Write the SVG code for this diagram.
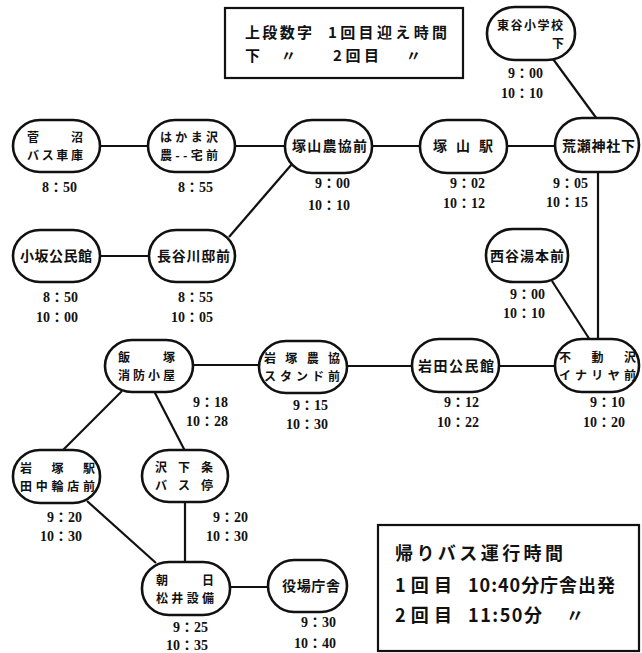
<svg xmlns="http://www.w3.org/2000/svg" width="642" height="653" viewBox="0 0 642 653">
<style>
.bg{fill:#fff}
.node rect{fill:#fff;stroke:#111;stroke-width:2.6}
.node text{font-family:"Noto Sans CJK JP","Noto Sans CJK SC",sans-serif;font-weight:bold;font-size:14px;fill:#111}
.node text.two{font-size:12px}
.node text.time{font-family:"Liberation Serif","Noto Sans CJK JP",serif;font-weight:bold;font-size:14px;fill:#111;text-anchor:end}
.edges line{stroke:#111;stroke-width:2.2}
.box{fill:none;stroke:#111;stroke-width:2.2}
.leg{font-family:"Noto Sans CJK JP","Noto Sans CJK SC",sans-serif;font-weight:bold;font-size:15px;fill:#111}
.leg2{font-family:"Noto Sans CJK JP","Noto Sans CJK SC",sans-serif;font-weight:bold;font-size:18px;fill:#111}
</style>
<rect class="bg" x="0" y="0" width="642" height="653"/>

<g id="connectors" class="edges">
<line x1="100" y1="146" x2="148" y2="146"/>
<line x1="235" y1="146" x2="285" y2="146"/>
<line x1="372" y1="146" x2="420" y2="146"/>
<line x1="507" y1="146" x2="555" y2="146"/>
<line x1="553" y1="59" x2="597" y2="119"/>
<line x1="100" y1="256" x2="149" y2="256"/>
<line x1="229" y1="237" x2="292" y2="164"/>
<line x1="598" y1="172" x2="598" y2="340"/>
<line x1="552" y1="281" x2="590" y2="340"/>
<line x1="499" y1="366" x2="555" y2="366"/>
<line x1="347" y1="366" x2="412" y2="366"/>
<line x1="193" y1="365" x2="259" y2="365"/>
<line x1="122" y1="391" x2="62" y2="451"/>
<line x1="154" y1="391" x2="185" y2="451"/>
<line x1="87" y1="501" x2="156" y2="563"/>
<line x1="185" y1="502" x2="185" y2="562"/>
<line x1="230" y1="587" x2="268" y2="587"/>
</g>

<g id="legend-top">
<rect class="box" x="225" y="8" width="238" height="70"/>
<text class="leg" x="245" y="38" textLength="67" lengthAdjust="spacing">上段数字</text>
<text class="leg" x="328" y="38" textLength="119" lengthAdjust="spacing">1回目迎え時間</text>
<text class="leg" x="245" y="61">下</text>
<text class="leg" x="281" y="61">〃</text>
<text class="leg" x="333" y="61" textLength="46" lengthAdjust="spacing">2回目</text>
<text class="leg" x="406" y="61">〃</text>
</g>

<g id="legend-bottom">
<rect class="box" x="378" y="525" width="261" height="126"/>
<text class="leg2" x="395" y="560" textLength="168" lengthAdjust="spacing">帰りバス運行時間</text>
<text class="leg2" x="395" y="592" textLength="57" lengthAdjust="spacing">1回目</text>
<text class="leg2" x="468" y="592" textLength="147" lengthAdjust="spacing">10:40分庁舎出発</text>
<text class="leg2" x="395" y="622" textLength="57" lengthAdjust="spacing">2回目</text>
<text class="leg2" x="468" y="622" textLength="74" lengthAdjust="spacing">11:50分</text>
<text class="leg2" x="566" y="622">〃</text>
</g>

<g id="n-higashiya" class="node">
<rect x="487" y="7" width="88" height="53" rx="28" ry="26"/>
<text class="two"><tspan x="497" y="30" textLength="66" lengthAdjust="spacing">東谷小学校</tspan><tspan x="552" y="48">下</tspan></text>
<text class="time" x="543" y="78">9：00</text>
<text class="time" x="543" y="98">10：10</text>
</g>

<g id="n-arase" class="node">
<rect x="555" y="118" width="84" height="54" rx="27" ry="27"/>
<text x="562" y="151" textLength="73" lengthAdjust="spacing">荒瀬神社下</text>
<text class="time" x="588" y="188">9：05</text>
<text class="time" x="588" y="207">10：15</text>
</g>

<g id="n-tsukayama-eki" class="node">
<rect x="420" y="120" width="87" height="53" rx="27" ry="26"/>
<text x="433" y="151" textLength="60" lengthAdjust="spacing">塚山駅</text>
<text class="time" x="485" y="188">9：02</text>
<text class="time" x="485" y="208">10：12</text>
</g>

<g id="n-tsukayama-nokyo" class="node">
<rect x="285" y="120" width="87" height="53" rx="27" ry="26"/>
<text x="292" y="151" textLength="75" lengthAdjust="spacing">塚山農協前</text>
<text class="time" x="350" y="188">9：00</text>
<text class="time" x="350" y="210">10：10</text>
</g>

<g id="n-hakamazawa" class="node">
<rect x="148" y="120" width="87" height="52" rx="27" ry="26"/>
<text class="two"><tspan x="160" y="142" textLength="58" lengthAdjust="spacing">はかま沢</tspan><tspan x="160" y="160" textLength="58" lengthAdjust="spacing">農--宅前</tspan></text>
<text class="time" x="213" y="192">8：55</text>
</g>

<g id="n-suganuma" class="node">
<rect x="13" y="120" width="87" height="52" rx="27" ry="26"/>
<text class="two"><tspan x="27" y="142" textLength="56" lengthAdjust="spacing">菅沼</tspan><tspan x="27" y="160" textLength="56" lengthAdjust="spacing">バス車庫</tspan></text>
<text class="time" x="77" y="192">8：50</text>
</g>

<g id="n-kosaka" class="node">
<rect x="13" y="230" width="87" height="52" rx="27" ry="26"/>
<text x="20" y="261" textLength="72" lengthAdjust="spacing">小坂公民館</text>
<text class="time" x="78" y="302">8：50</text>
<text class="time" x="78" y="322">10：00</text>
</g>

<g id="n-hasegawa" class="node">
<rect x="149" y="230" width="86" height="52" rx="27" ry="26"/>
<text x="157" y="261" textLength="73" lengthAdjust="spacing">長谷川邸前</text>
<text class="time" x="213" y="302">8：55</text>
<text class="time" x="213" y="322">10：05</text>
</g>

<g id="n-nishiya" class="node">
<rect x="486" y="229" width="82" height="53" rx="27" ry="26"/>
<text x="490" y="261" textLength="74" lengthAdjust="spacing">西谷湯本前</text>
<text class="time" x="545" y="299">9：00</text>
<text class="time" x="545" y="318">10：10</text>
</g>

<g id="n-fudosawa" class="node">
<rect x="555" y="339" width="84" height="53" rx="27" ry="26"/>
<text class="two"><tspan x="559" y="362" textLength="77" lengthAdjust="spacing">不動沢</tspan><tspan x="559" y="380" textLength="77" lengthAdjust="spacing">イナリヤ前</tspan></text>
<text class="time" x="625" y="407">9：10</text>
<text class="time" x="625" y="427">10：20</text>
</g>

<g id="n-iwata" class="node">
<rect x="412" y="339" width="87" height="53" rx="27" ry="26"/>
<text x="418" y="371" textLength="76" lengthAdjust="spacing">岩田公民館</text>
<text class="time" x="479" y="407">9：12</text>
<text class="time" x="479" y="427">10：22</text>
</g>

<g id="n-iwatsuka-nokyo" class="node">
<rect x="259" y="341" width="88" height="52" rx="27" ry="26"/>
<text class="two"><tspan x="264" y="363" textLength="76" lengthAdjust="spacing">岩塚農協</tspan><tspan x="264" y="381" textLength="76" lengthAdjust="spacing">スタンド前</tspan></text>
<text class="time" x="328" y="410">9：15</text>
<text class="time" x="328" y="429">10：30</text>
</g>

<g id="n-iizuka" class="node">
<rect x="105" y="340" width="88" height="52" rx="27" ry="26"/>
<text class="two"><tspan x="118" y="362" textLength="57" lengthAdjust="spacing">飯塚</tspan><tspan x="118" y="380" textLength="57" lengthAdjust="spacing">消防小屋</tspan></text>
<text class="time" x="228" y="407">9：18</text>
<text class="time" x="228" y="426">10：28</text>
</g>

<g id="n-iwatsuka-eki" class="node">
<rect x="13" y="450" width="87" height="53" rx="27" ry="26"/>
<text class="two"><tspan x="20" y="473" textLength="75" lengthAdjust="spacing">岩塚駅</tspan><tspan x="20" y="491" textLength="75" lengthAdjust="spacing">田中輪店前</tspan></text>
<text class="time" x="82" y="522">9：20</text>
<text class="time" x="82" y="541">10：30</text>
</g>

<g id="n-sawashimojo" class="node">
<rect x="142" y="450" width="86" height="52" rx="27" ry="26"/>
<text class="two"><tspan x="155" y="472" textLength="58" lengthAdjust="spacing">沢下条</tspan><tspan x="155" y="490" textLength="58" lengthAdjust="spacing">バス停</tspan></text>
<text class="time" x="248" y="522">9：20</text>
<text class="time" x="248" y="541">10：30</text>
</g>

<g id="n-asahi" class="node">
<rect x="142" y="562" width="88" height="53" rx="27" ry="26"/>
<text class="two"><tspan x="156" y="585" textLength="58" lengthAdjust="spacing">朝日</tspan><tspan x="156" y="603" textLength="58" lengthAdjust="spacing">松井設備</tspan></text>
<text class="time" x="208" y="632">9：25</text>
<text class="time" x="208" y="650">10：35</text>
</g>

<g id="n-yakuba" class="node">
<rect x="268" y="560" width="79" height="52" rx="26" ry="26"/>
<text x="282" y="591" textLength="58" lengthAdjust="spacing">役場庁舎</text>
<text class="time" x="336" y="627">9：30</text>
<text class="time" x="336" y="648">10：40</text>
</g>
</svg>
